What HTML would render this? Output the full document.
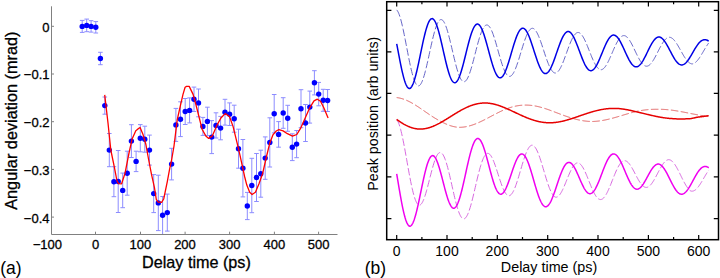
<!DOCTYPE html>
<html><head><meta charset="utf-8"><style>
html,body{margin:0;padding:0;background:#fff;}
body{width:720px;height:278px;overflow:hidden;}
svg{display:block;}
text{font-family:"Liberation Sans",sans-serif;fill:#000;stroke:#000;stroke-width:0.3px;}
.r text,text.r{stroke:none;}
</style></head><body>
<svg width="720" height="278" viewBox="0 0 720 278">
<!-- Panel (a) -->
<g stroke="#808080" stroke-width="1" fill="none">
<path d="M51.5 6.3V234.5H337.5"/>
<path d="M51.5 26.3h2.5M51.5 74h2.5M51.5 121.7h2.5M51.5 169.4h2.5M51.5 217.1h2.5"/>
<path d="M95.5 234.5v-2.8M140.5 234.5v-2.8M185.1 234.5v-2.8M229.6 234.5v-2.8M274.4 234.5v-2.8M318.6 234.5v-2.8"/>
</g>
<g stroke="#8c8cff" stroke-width="1" fill="none"><path d="M82.2 20.4V32.4M79.9 20.4h4.6M79.9 32.4h4.6M86.7 19.1V31.7M84.4 19.1h4.6M84.4 31.7h4.6M91.1 20.7V32.1M88.8 20.7h4.6M88.8 32.1h4.6M95.8 21.6V33.0M93.5 21.6h4.6M93.5 33.0h4.6M100.4 52.3V64.7M98.1 52.3h4.6M98.1 64.7h4.6M104.8 97.0V114.2M102.5 97.0h4.6M102.5 114.2h4.6M109.3 133.5V166.7M107.0 133.5h4.6M107.0 166.7h4.6M113.9 166.7V196.7M111.6 166.7h4.6M111.6 196.7h4.6M118.2 150.5V212.5M115.9 150.5h4.6M115.9 212.5h4.6M122.7 173.1V207.7M120.4 173.1h4.6M120.4 207.7h4.6M127.2 151.2V195.2M124.9 151.2h4.6M124.9 195.2h4.6M131.4 124.7V157.5M129.1 124.7h4.6M129.1 157.5h4.6M136.1 151.2V171.6M133.8 151.2h4.6M133.8 171.6h4.6M140.3 124.6V151.8M138.0 124.6h4.6M138.0 151.8h4.6M144.8 126.2V152.2M142.5 126.2h4.6M142.5 152.2h4.6M149.5 135.1V165.1M147.2 135.1h4.6M147.2 165.1h4.6M153.7 174.6V212.6M151.4 174.6h4.6M151.4 212.6h4.6M158.3 175.2V230.6M156.0 175.2h4.6M156.0 230.6h4.6M162.6 196.5V234.0M160.3 196.5h4.6M167.3 194.1V231.1M165.0 194.1h4.6M165.0 231.1h4.6M171.6 148.3V179.9M169.3 148.3h4.6M169.3 179.9h4.6M175.9 108.4V141.4M173.6 108.4h4.6M173.6 141.4h4.6M180.5 101.8V136.6M178.2 101.8h4.6M178.2 136.6h4.6M185.2 98.5V124.5M182.9 98.5h4.6M182.9 124.5h4.6M189.6 97.9V122.9M187.3 97.9h4.6M187.3 122.9h4.6M194.0 87.1V111.5M191.7 87.1h4.6M191.7 111.5h4.6M198.5 89.0V116.8M196.2 89.0h4.6M196.2 116.8h4.6M202.9 117.4V135.4M200.6 117.4h4.6M200.6 135.4h4.6M207.4 107.2V135.6M205.1 107.2h4.6M205.1 135.6h4.6M211.7 120.6V153.6M209.4 120.6h4.6M209.4 153.6h4.6M216.0 112.8V138.0M213.7 112.8h4.6M213.7 138.0h4.6M220.6 116.4V139.8M218.3 116.4h4.6M218.3 139.8h4.6M225.0 99.3V125.1M222.7 99.3h4.6M222.7 125.1h4.6M229.6 102.9V125.5M227.3 102.9h4.6M227.3 125.5h4.6M234.2 105.2V132.2M231.9 105.2h4.6M231.9 132.2h4.6M238.5 129.2V168.2M236.2 129.2h4.6M236.2 168.2h4.6M242.9 139.5V196.9M240.6 139.5h4.6M240.6 196.9h4.6M247.3 192.4V219.6M245.0 192.4h4.6M245.0 219.6h4.6M251.8 158.3V212.7M249.5 158.3h4.6M249.5 212.7h4.6M256.5 153.5V201.5M254.2 153.5h4.6M254.2 201.5h4.6M260.8 150.2V197.2M258.5 150.2h4.6M258.5 197.2h4.6M265.2 136.9V179.3M262.9 136.9h4.6M262.9 179.3h4.6M269.8 117.8V167.0M267.5 117.8h4.6M267.5 167.0h4.6M274.2 94.5V132.9M271.9 94.5h4.6M271.9 132.9h4.6M278.6 121.6V147.2M276.3 121.6h4.6M276.3 147.2h4.6M283.2 97.7V128.3M280.9 97.7h4.6M280.9 128.3h4.6M287.7 105.3V131.3M285.4 105.3h4.6M285.4 131.3h4.6M292.3 133.8V160.6M290.0 133.8h4.6M290.0 160.6h4.6M296.6 130.5V157.7M294.3 130.5h4.6M294.3 157.7h4.6M301.0 89.7V127.7M298.7 89.7h4.6M298.7 127.7h4.6M305.5 104.5V141.5M303.2 104.5h4.6M303.2 141.5h4.6M309.8 91.1V123.1M307.5 91.1h4.6M307.5 123.1h4.6M314.4 70.7V94.9M312.1 70.7h4.6M312.1 94.9h4.6M318.7 82.4V105.8M316.4 82.4h4.6M316.4 105.8h4.6M323.2 89.3V111.3M320.9 89.3h4.6M320.9 111.3h4.6M327.6 89.5V111.5M325.3 89.5h4.6M325.3 111.5h4.6"/></g>
<g fill="#0000ff"><circle cx="82.2" cy="26.4" r="2.7"/><circle cx="86.7" cy="25.4" r="2.7"/><circle cx="91.1" cy="26.4" r="2.7"/><circle cx="95.8" cy="27.3" r="2.7"/><circle cx="100.4" cy="58.5" r="2.7"/><circle cx="104.8" cy="105.6" r="2.7"/><circle cx="109.3" cy="150.1" r="2.7"/><circle cx="113.9" cy="181.7" r="2.7"/><circle cx="118.2" cy="181.5" r="2.7"/><circle cx="122.7" cy="190.4" r="2.7"/><circle cx="127.2" cy="173.2" r="2.7"/><circle cx="131.4" cy="141.1" r="2.7"/><circle cx="136.1" cy="161.4" r="2.7"/><circle cx="140.3" cy="138.2" r="2.7"/><circle cx="144.8" cy="139.2" r="2.7"/><circle cx="149.5" cy="150.1" r="2.7"/><circle cx="153.7" cy="193.6" r="2.7"/><circle cx="158.3" cy="202.9" r="2.7"/><circle cx="162.6" cy="215.3" r="2.7"/><circle cx="167.3" cy="212.6" r="2.7"/><circle cx="171.6" cy="164.1" r="2.7"/><circle cx="175.9" cy="124.9" r="2.7"/><circle cx="180.5" cy="119.2" r="2.7"/><circle cx="185.2" cy="111.5" r="2.7"/><circle cx="189.6" cy="110.4" r="2.7"/><circle cx="194.0" cy="99.3" r="2.7"/><circle cx="198.5" cy="102.9" r="2.7"/><circle cx="202.9" cy="126.4" r="2.7"/><circle cx="207.4" cy="121.4" r="2.7"/><circle cx="211.7" cy="137.1" r="2.7"/><circle cx="216.0" cy="125.4" r="2.7"/><circle cx="220.6" cy="128.1" r="2.7"/><circle cx="225.0" cy="112.2" r="2.7"/><circle cx="229.6" cy="114.2" r="2.7"/><circle cx="234.2" cy="118.7" r="2.7"/><circle cx="238.5" cy="148.7" r="2.7"/><circle cx="242.9" cy="168.2" r="2.7"/><circle cx="247.3" cy="206.0" r="2.7"/><circle cx="251.8" cy="185.5" r="2.7"/><circle cx="256.5" cy="177.5" r="2.7"/><circle cx="260.8" cy="173.7" r="2.7"/><circle cx="265.2" cy="158.1" r="2.7"/><circle cx="269.8" cy="142.4" r="2.7"/><circle cx="274.2" cy="113.7" r="2.7"/><circle cx="278.6" cy="134.4" r="2.7"/><circle cx="283.2" cy="113.0" r="2.7"/><circle cx="287.7" cy="118.3" r="2.7"/><circle cx="292.3" cy="147.2" r="2.7"/><circle cx="296.6" cy="144.1" r="2.7"/><circle cx="301.0" cy="108.7" r="2.7"/><circle cx="305.5" cy="123.0" r="2.7"/><circle cx="309.8" cy="107.1" r="2.7"/><circle cx="314.4" cy="82.8" r="2.7"/><circle cx="318.7" cy="94.1" r="2.7"/><circle cx="323.2" cy="100.3" r="2.7"/><circle cx="327.6" cy="100.5" r="2.7"/></g>
<polyline points="104.7,94.9 108,123 110.8,150 114.4,167.3 117,181 118.5,183.6 121.6,183.8 125,173.4 129,153 132.2,138.7 135.8,130.7 138,128.9 140.1,127.5 143,134.4 145.9,144.5 148.7,160 151.5,174.4 154.4,187.3 156.3,199.3 158,202 161.6,202.4 163.7,199 167.3,181.6 169.7,168.6 171.6,160 174,146 177.2,120 180.5,105.2 183,94.4 185.1,87.2 186.5,86.4 189.2,86.4 193.1,94.4 195.9,104.5 199.3,118 202.2,129.5 205.8,135.9 208.7,138.4 212.3,135.9 216.6,125.9 220.9,118 225.2,113.6 229.5,116.5 233.1,126.6 238.5,148.7 242.8,168.1 244.6,176.5 246.8,185.1 249.7,192.3 252.1,194.5 255.4,192.3 259,183.7 262.6,173.6 266.5,156.5 269.7,143.3 272.9,134.9 276.2,131 278.9,129.7 283.1,130.9 287.4,133.7 292.5,136.2 296.8,134.5 300.4,128.7 304,120.8 309.7,107.8 314,100.9 317.3,99.2 320.5,101.3 323.8,107.8 328.1,118" fill="none" stroke="#f00" stroke-width="1.3" stroke-linejoin="round"/>
<g font-size="13" text-anchor="end">
<text x="49.5" y="31.6">0</text>
<text x="49.5" y="79.3">&#8722;0.1</text>
<text x="49.5" y="127">&#8722;0.2</text>
<text x="49.5" y="174.8">&#8722;0.3</text>
<text x="49.5" y="222.6">&#8722;0.4</text>
</g>
<g font-size="13" text-anchor="middle">
<text x="51.2" y="248.7">100</text>
<text x="95.6" y="248.7">0</text>
<text x="140.4" y="248.7">100</text>
<text x="185" y="248.7">200</text>
<text x="229.6" y="248.7">300</text>
<text x="274.4" y="248.7">400</text>
<text x="318.6" y="248.7">500</text>
</g>
<text x="33" y="248.7" font-size="13">&#8722;</text>
<text x="142" y="267.6" font-size="16.2">Delay time (ps)</text>
<text transform="translate(16.5,209.8) rotate(-90)" font-size="16.3">Angular deviation (mrad)</text>
<text class="r" x="0.2" y="273.9" font-size="17.5">(a)</text>
<!-- Panel (b) -->
<polyline points="396.7,9.90 397.2,10.48 397.7,11.24 398.2,12.18 398.7,13.28 399.2,14.55 399.7,15.97 400.2,17.55 400.7,19.26 401.2,21.11 401.7,23.08 402.2,25.17 402.7,27.36 403.2,29.65 403.7,32.01 404.2,34.45 404.7,36.95 405.2,39.50 405.7,42.08 406.2,44.69 406.7,47.30 407.2,49.92 407.7,52.52 408.2,55.10 408.7,57.64 409.2,60.13 409.7,62.56 410.2,64.92 410.7,67.20 411.2,69.39 411.7,71.47 412.2,73.44 412.7,75.29 413.2,77.01 413.7,78.60 414.2,80.05 414.7,81.34 415.2,82.48 415.7,83.46 416.2,84.28 416.7,84.94 417.2,85.43 417.7,85.74 418.2,85.89 418.7,85.88 419.2,85.71 419.7,85.37 420.2,84.86 420.7,84.20 421.2,83.37 421.7,82.40 422.2,81.27 422.7,80.01 423.2,78.61 423.7,77.08 424.2,75.44 424.7,73.68 425.2,71.82 425.7,69.87 426.2,67.84 426.7,65.74 427.2,63.57 427.7,61.35 428.2,59.10 428.7,56.81 429.2,54.51 429.7,52.20 430.2,49.89 430.7,47.60 431.2,45.34 431.7,43.11 432.2,40.93 432.7,38.82 433.2,36.77 433.7,34.79 434.2,32.91 434.7,31.12 435.2,29.44 435.7,27.87 436.2,26.41 436.7,25.09 437.2,23.90 437.7,22.84 438.2,21.93 438.7,21.16 439.2,20.55 439.7,20.08 440.2,19.77 440.7,19.62 441.2,19.59 441.7,19.68 442.2,19.92 442.7,20.31 443.2,20.86 443.7,21.55 444.2,22.38 444.7,23.35 445.2,24.46 445.7,25.69 446.2,27.04 446.7,28.51 447.2,30.08 447.7,31.75 448.2,33.51 448.7,35.35 449.2,37.27 449.7,39.24 450.2,41.27 450.7,43.35 451.2,45.45 451.7,47.58 452.2,49.73 452.7,51.87 453.2,54.01 453.7,56.13 454.2,58.22 454.7,60.27 455.2,62.28 455.7,64.23 456.2,66.12 456.7,67.93 457.2,69.66 457.7,71.29 458.2,72.83 458.7,74.27 459.2,75.59 459.7,76.79 460.2,77.87 460.7,78.83 461.2,79.65 461.7,80.34 462.2,80.89 462.7,81.30 463.2,81.57 463.7,81.70 464.2,81.72 464.7,81.59 465.2,81.33 465.7,80.92 466.2,80.38 466.7,79.71 467.2,78.91 467.7,77.98 468.2,76.93 468.7,75.77 469.2,74.50 469.7,73.13 470.2,71.67 470.7,70.11 471.2,68.48 471.7,66.78 472.2,65.01 472.7,63.18 473.2,61.32 473.7,59.41 474.2,57.48 474.7,55.53 475.2,53.57 475.7,51.61 476.2,49.67 476.7,47.74 477.2,45.84 477.7,43.97 478.2,42.16 478.7,40.40 479.2,38.70 479.7,37.07 480.2,35.52 480.7,34.05 481.2,32.68 481.7,31.40 482.2,30.23 482.7,29.17 483.2,28.22 483.7,27.39 484.2,26.68 484.7,26.09 485.2,25.63 485.7,25.30 486.2,25.10 486.7,24.99 487.2,25.01 487.7,25.16 488.2,25.43 488.7,25.84 489.2,26.36 489.7,27.01 490.2,27.77 490.7,28.65 491.2,29.63 491.7,30.72 492.2,31.90 492.7,33.17 493.2,34.53 493.7,35.97 494.2,37.48 494.7,39.05 495.2,40.67 495.7,42.35 496.2,44.06 496.7,45.80 497.2,47.56 497.7,49.34 498.2,51.12 498.7,52.90 499.2,54.67 499.7,56.42 500.2,58.13 500.7,59.82 501.2,61.45 501.7,63.04 502.2,64.56 502.7,66.02 503.2,67.40 503.7,68.71 504.2,69.92 504.7,71.05 505.2,72.08 505.7,73.01 506.2,73.83 506.7,74.55 507.2,75.15 507.7,75.64 508.2,76.01 508.7,76.27 509.2,76.40 509.7,76.42 510.2,76.32 510.7,76.11 511.2,75.79 511.7,75.36 512.2,74.82 512.7,74.17 513.2,73.41 513.7,72.56 514.2,71.60 514.7,70.55 515.2,69.42 515.7,68.20 516.2,66.91 516.7,65.55 517.2,64.13 517.7,62.66 518.2,61.13 518.7,59.57 519.2,57.97 519.7,56.34 520.2,54.70 520.7,53.05 521.2,51.40 521.7,49.75 522.2,48.12 522.7,46.50 523.2,44.92 523.7,43.37 524.2,41.86 524.7,40.41 525.2,39.01 525.7,37.68 526.2,36.41 526.7,35.22 527.2,34.11 527.7,33.09 528.2,32.15 528.7,31.31 529.2,30.57 529.7,29.92 530.2,29.38 530.7,28.95 531.2,28.62 531.7,28.40 532.2,28.29 532.7,28.31 533.2,28.43 533.7,28.67 534.2,29.01 534.7,29.45 535.2,30.00 535.7,30.64 536.2,31.38 536.7,32.21 537.2,33.13 537.7,34.13 538.2,35.21 538.7,36.36 539.2,37.58 539.7,38.86 540.2,40.19 540.7,41.57 541.2,43.00 541.7,44.45 542.2,45.94 542.7,47.45 543.2,48.97 543.7,50.50 544.2,52.02 544.7,53.54 545.2,55.05 545.7,56.53 546.2,57.99 546.7,59.41 547.2,60.78 547.7,62.11 548.2,63.39 548.7,64.61 549.2,65.76 549.7,66.84 550.2,67.85 550.7,68.77 551.2,69.62 551.7,70.37 552.2,71.04 552.7,71.61 553.2,72.09 553.7,72.47 554.2,72.76 554.7,72.94 555.2,73.03 555.7,73.01 556.2,72.88 556.7,72.64 557.2,72.31 557.7,71.88 558.2,71.35 558.7,70.74 559.2,70.05 559.7,69.27 560.2,68.41 560.7,67.48 561.2,66.47 561.7,65.41 562.2,64.28 562.7,63.10 563.2,61.88 563.7,60.61 564.2,59.30 564.7,57.96 565.2,56.60 565.7,55.23 566.2,53.84 566.7,52.45 567.2,51.06 567.7,49.69 568.2,48.32 568.7,46.98 569.2,45.67 569.7,44.39 570.2,43.15 570.7,41.96 571.2,40.82 571.7,39.73 572.2,38.71 572.7,37.75 573.2,36.86 573.7,36.04 574.2,35.30 574.7,34.65 575.2,34.07 575.7,33.58 576.2,33.18 576.7,32.87 577.2,32.65 577.7,32.52 578.2,32.49 578.7,32.56 579.2,32.73 579.7,32.98 580.2,33.31 580.7,33.74 581.2,34.24 581.7,34.83 582.2,35.50 582.7,36.24 583.2,37.05 583.7,37.92 584.2,38.86 584.7,39.86 585.2,40.91 585.7,42.00 586.2,43.14 586.7,44.32 587.2,45.53 587.7,46.76 588.2,48.01 588.7,49.27 589.2,50.54 589.7,51.82 590.2,53.09 590.7,54.35 591.2,55.59 591.7,56.81 592.2,58.00 592.7,59.16 593.2,60.29 593.7,61.36 594.2,62.39 594.7,63.37 595.2,64.29 595.7,65.15 596.2,65.94 596.7,66.67 597.2,67.32 597.7,67.90 598.2,68.40 598.7,68.83 599.2,69.17 599.7,69.43 600.2,69.61 600.7,69.71 601.2,69.72 601.7,69.63 602.2,69.46 602.7,69.20 603.2,68.86 603.7,68.44 604.2,67.95 604.7,67.39 605.2,66.76 605.7,66.06 606.2,65.29 606.7,64.47 607.2,63.59 607.7,62.66 608.2,61.68 608.7,60.67 609.2,59.61 609.7,58.52 610.2,57.41 610.7,56.28 611.2,55.13 611.7,53.96 612.2,52.80 612.7,51.63 613.2,50.47 613.7,49.32 614.2,48.19 614.7,47.08 615.2,46.00 615.7,44.94 616.2,43.93 616.7,42.95 617.2,42.03 617.7,41.15 618.2,40.32 618.7,39.55 619.2,38.85 619.7,38.20 620.2,37.63 620.7,37.12 621.2,36.68 621.7,36.31 622.2,36.02 622.7,35.81 623.2,35.67 623.7,35.60 624.2,35.61 624.7,35.70 625.2,35.87 625.7,36.12 626.2,36.44 626.7,36.83 627.2,37.29 627.7,37.82 628.2,38.40 628.7,39.05 629.2,39.75 629.7,40.51 630.2,41.32 630.7,42.17 631.2,43.06 631.7,43.99 632.2,44.96 632.7,45.95 633.2,46.96 633.7,47.99 634.2,49.03 634.7,50.08 635.2,51.14 635.7,52.19 636.2,53.24 636.7,54.27 637.2,55.29 637.7,56.28 638.2,57.25 638.7,58.19 639.2,59.09 639.7,59.96 640.2,60.78 640.7,61.55 641.2,62.28 641.7,62.95 642.2,63.56 642.7,64.12 643.2,64.61 643.7,65.05 644.2,65.41 644.7,65.71 645.2,65.94 645.7,66.10 646.2,66.20 646.7,66.22 647.2,66.16 647.7,66.03 648.2,65.82 648.7,65.55 649.2,65.21 649.7,64.81 650.2,64.35 650.7,63.82 651.2,63.25 651.7,62.61 652.2,61.93 652.7,61.20 653.2,60.42 653.7,59.61 654.2,58.75 654.7,57.87 655.2,56.96 655.7,56.02 656.2,55.07 656.7,54.10 657.2,53.12 657.7,52.13 658.2,51.14 658.7,50.16 659.2,49.18 659.7,48.22 660.2,47.27 660.7,46.35 661.2,45.44 661.7,44.57 662.2,43.73 662.7,42.93 663.2,42.17 663.7,41.45 664.2,40.78 664.7,40.16 665.2,39.60 665.7,39.08 666.2,38.63 666.7,38.23 667.2,37.89 667.7,37.61 668.2,37.40 668.7,37.29 669.2,37.25 669.7,37.27 670.2,37.36 670.7,37.51 671.2,37.72 671.7,37.99 672.2,38.32 672.7,38.70 673.2,39.15 673.7,39.64 674.2,40.19 674.7,40.79 675.2,41.43 675.7,42.11 676.2,42.83 676.7,43.59 677.2,44.38 677.7,45.20 678.2,46.04 678.7,46.91 679.2,47.79 679.7,48.68 680.2,49.58 680.7,50.48 681.2,51.39 681.7,52.28 682.2,53.17 682.7,54.05 683.2,54.91 683.7,55.75 684.2,56.57 684.7,57.36 685.2,58.12 685.7,58.84 686.2,59.52 686.7,60.16 687.2,60.76 687.7,61.32 688.2,61.82 688.7,62.27 689.2,62.68 689.7,63.02 690.2,63.31 690.7,63.55 691.2,63.73 691.7,63.85 692.2,63.89 692.7,63.83 693.2,63.70 693.7,63.52 694.2,63.28 694.7,62.98 695.2,62.64 695.7,62.24 696.2,61.79 696.7,61.29 697.2,60.74 697.7,60.16 698.2,59.53 698.7,58.86 699.2,58.16 699.7,57.43 700.2,56.67 700.7,55.89 701.2,55.08 701.7,54.26 702.2,53.42 702.7,52.57 703.2,51.72 703.7,50.86 704.2,50.01 704.7,49.16 705.2,48.32 705.7,47.50 706.2,46.69 706.7,45.89 707.2,45.13 707.7,44.39 708.2,43.68 708.7,43.00" fill="none" stroke="#6464c8" stroke-width="1" stroke-dasharray="7.5 2.5"/>
<polyline points="396.7,97.59 397.2,97.65 397.7,97.71 398.2,97.79 398.7,97.88 399.2,97.97 399.7,98.07 400.2,98.19 400.7,98.31 401.2,98.44 401.7,98.58 402.2,98.72 402.7,98.88 403.2,99.04 403.7,99.21 404.2,99.39 404.7,99.57 405.2,99.77 405.7,99.97 406.2,100.18 406.7,100.39 407.2,100.61 407.7,100.84 408.2,101.08 408.7,101.32 409.2,101.57 409.7,101.82 410.2,102.08 410.7,102.35 411.2,102.62 411.7,102.89 412.2,103.18 412.7,103.46 413.2,103.75 413.7,104.05 414.2,104.35 414.7,104.66 415.2,104.96 415.7,105.28 416.2,105.59 416.7,105.91 417.2,106.23 417.7,106.56 418.2,106.89 418.7,107.22 419.2,107.55 419.7,107.89 420.2,108.23 420.7,108.57 421.2,108.91 421.7,109.25 422.2,109.59 422.7,109.94 423.2,110.28 423.7,110.63 424.2,110.98 424.7,111.32 425.2,111.67 425.7,112.02 426.2,112.36 426.7,112.71 427.2,113.05 427.7,113.39 428.2,113.74 428.7,114.08 429.2,114.42 429.7,114.75 430.2,115.09 430.7,115.42 431.2,115.75 431.7,116.08 432.2,116.41 432.7,116.73 433.2,117.05 433.7,117.36 434.2,117.68 434.7,117.99 435.2,118.29 435.7,118.59 436.2,118.89 436.7,119.18 437.2,119.47 437.7,119.76 438.2,120.04 438.7,120.31 439.2,120.58 439.7,120.85 440.2,121.11 440.7,121.36 441.2,121.61 441.7,121.85 442.2,122.12 442.7,122.38 443.2,122.64 443.7,122.90 444.2,123.15 444.7,123.39 445.2,123.62 445.7,123.85 446.2,124.07 446.7,124.29 447.2,124.50 447.7,124.70 448.2,124.90 448.7,125.09 449.2,125.27 449.7,125.44 450.2,125.61 450.7,125.77 451.2,125.93 451.7,126.07 452.2,126.21 452.7,126.35 453.2,126.47 453.7,126.59 454.2,126.70 454.7,126.80 455.2,126.90 455.7,126.99 456.2,127.07 456.7,127.14 457.2,127.21 457.7,127.27 458.2,127.31 458.7,127.32 459.2,127.32 459.7,127.32 460.2,127.31 460.7,127.30 461.2,127.27 461.7,127.24 462.2,127.20 462.7,127.16 463.2,127.11 463.7,127.05 464.2,126.98 464.7,126.91 465.2,126.83 465.7,126.75 466.2,126.66 466.7,126.56 467.2,126.45 467.7,126.34 468.2,126.23 468.7,126.10 469.2,125.97 469.7,125.84 470.2,125.70 470.7,125.55 471.2,125.40 471.7,125.24 472.2,125.08 472.7,124.91 473.2,124.74 473.7,124.56 474.2,124.38 474.7,124.19 475.2,124.00 475.7,123.80 476.2,123.60 476.7,123.40 477.2,123.19 477.7,122.97 478.2,122.76 478.7,122.53 479.2,122.31 479.7,122.08 480.2,121.85 480.7,121.62 481.2,121.38 481.7,121.14 482.2,120.90 482.7,120.65 483.2,120.40 483.7,120.15 484.2,119.90 484.7,119.65 485.2,119.39 485.7,119.13 486.2,118.88 486.7,118.61 487.2,118.35 487.7,118.09 488.2,117.83 488.7,117.56 489.2,117.30 489.7,117.03 490.2,116.77 490.7,116.50 491.2,116.24 491.7,115.97 492.2,115.71 492.7,115.44 493.2,115.18 493.7,114.92 494.2,114.65 494.7,114.39 495.2,114.13 495.7,113.87 496.2,113.62 496.7,113.36 497.2,113.11 497.7,112.85 498.2,112.60 498.7,112.36 499.2,112.11 499.7,111.87 500.2,111.63 500.7,111.39 501.2,111.15 501.7,110.92 502.2,110.69 502.7,110.46 503.2,110.24 503.7,110.02 504.2,109.81 504.7,109.59 505.2,109.38 505.7,109.18 506.2,108.98 506.7,108.78 507.2,108.59 507.7,108.41 508.2,108.23 508.7,108.05 509.2,107.89 509.7,107.72 510.2,107.56 510.7,107.40 511.2,107.25 511.7,107.11 512.2,106.96 512.7,106.83 513.2,106.70 513.7,106.57 514.2,106.45 514.7,106.33 515.2,106.22 515.7,106.11 516.2,106.01 516.7,105.91 517.2,105.82 517.7,105.74 518.2,105.66 518.7,105.58 519.2,105.51 519.7,105.45 520.2,105.39 520.7,105.34 521.2,105.29 521.7,105.25 522.2,105.21 522.7,105.18 523.2,105.15 523.7,105.13 524.2,105.11 524.7,105.10 525.2,105.10 525.7,105.09 526.2,105.09 526.7,105.10 527.2,105.11 527.7,105.13 528.2,105.15 528.7,105.18 529.2,105.21 529.7,105.25 530.2,105.29 530.7,105.34 531.2,105.39 531.7,105.45 532.2,105.51 532.7,105.58 533.2,105.65 533.7,105.73 534.2,105.81 534.7,105.90 535.2,105.99 535.7,106.08 536.2,106.18 536.7,106.28 537.2,106.39 537.7,106.50 538.2,106.61 538.7,106.73 539.2,106.86 539.7,106.98 540.2,107.11 540.7,107.25 541.2,107.38 541.7,107.52 542.2,107.67 542.7,107.81 543.2,107.96 543.7,108.12 544.2,108.27 544.7,108.43 545.2,108.59 545.7,108.75 546.2,108.92 546.7,109.09 547.2,109.26 547.7,109.43 548.2,109.60 548.7,109.78 549.2,109.96 549.7,110.14 550.2,110.32 550.7,110.50 551.2,110.69 551.7,110.87 552.2,111.06 552.7,111.25 553.2,111.43 553.7,111.62 554.2,111.81 554.7,112.00 555.2,112.19 555.7,112.39 556.2,112.58 556.7,112.77 557.2,112.96 557.7,113.15 558.2,113.34 558.7,113.53 559.2,113.72 559.7,113.91 560.2,114.10 560.7,114.29 561.2,114.48 561.7,114.66 562.2,114.85 562.7,115.03 563.2,115.22 563.7,115.40 564.2,115.58 564.7,115.76 565.2,115.93 565.7,116.11 566.2,116.28 566.7,116.45 567.2,116.62 567.7,116.79 568.2,116.96 568.7,117.12 569.2,117.28 569.7,117.44 570.2,117.59 570.7,117.74 571.2,117.89 571.7,118.04 572.2,118.19 572.7,118.33 573.2,118.48 573.7,118.63 574.2,118.77 574.7,118.91 575.2,119.05 575.7,119.18 576.2,119.31 576.7,119.44 577.2,119.56 577.7,119.68 578.2,119.80 578.7,119.91 579.2,120.02 579.7,120.12 580.2,120.23 580.7,120.32 581.2,120.42 581.7,120.51 582.2,120.59 582.7,120.68 583.2,120.76 583.7,120.83 584.2,120.90 584.7,120.97 585.2,121.03 585.7,121.09 586.2,121.15 586.7,121.20 587.2,121.25 587.7,121.29 588.2,121.33 588.7,121.36 589.2,121.39 589.7,121.42 590.2,121.44 590.7,121.46 591.2,121.48 591.7,121.49 592.2,121.50 592.7,121.49 593.2,121.47 593.7,121.45 594.2,121.42 594.7,121.40 595.2,121.36 595.7,121.32 596.2,121.28 596.7,121.24 597.2,121.19 597.7,121.14 598.2,121.08 598.7,121.02 599.2,120.96 599.7,120.90 600.2,120.83 600.7,120.75 601.2,120.68 601.7,120.60 602.2,120.52 602.7,120.43 603.2,120.34 603.7,120.25 604.2,120.16 604.7,120.06 605.2,119.96 605.7,119.86 606.2,119.75 606.7,119.64 607.2,119.53 607.7,119.42 608.2,119.30 608.7,119.19 609.2,119.07 609.7,118.94 610.2,118.82 610.7,118.69 611.2,118.56 611.7,118.43 612.2,118.30 612.7,118.17 613.2,118.03 613.7,117.90 614.2,117.76 614.7,117.62 615.2,117.48 615.7,117.33 616.2,117.19 616.7,117.04 617.2,116.90 617.7,116.75 618.2,116.60 618.7,116.46 619.2,116.31 619.7,116.16 620.2,116.01 620.7,115.86 621.2,115.71 621.7,115.56 622.2,115.41 622.7,115.25 623.2,115.10 623.7,114.95 624.2,114.80 624.7,114.65 625.2,114.50 625.7,114.35 626.2,114.20 626.7,114.05 627.2,113.90 627.7,113.76 628.2,113.61 628.7,113.46 629.2,113.32 629.7,113.17 630.2,113.03 630.7,112.89 631.2,112.75 631.7,112.61 632.2,112.47 632.7,112.33 633.2,112.20 633.7,112.07 634.2,111.93 634.7,111.80 635.2,111.68 635.7,111.56 636.2,111.45 636.7,111.35 637.2,111.25 637.7,111.15 638.2,111.05 638.7,110.96 639.2,110.87 639.7,110.78 640.2,110.69 640.7,110.60 641.2,110.52 641.7,110.44 642.2,110.36 642.7,110.29 643.2,110.21 643.7,110.14 644.2,110.08 644.7,110.01 645.2,109.95 645.7,109.89 646.2,109.83 646.7,109.78 647.2,109.72 647.7,109.68 648.2,109.63 648.7,109.59 649.2,109.55 649.7,109.51 650.2,109.48 650.7,109.44 651.2,109.42 651.7,109.39 652.2,109.37 652.7,109.35 653.2,109.33 653.7,109.32 654.2,109.31 654.7,109.30 655.2,109.29 655.7,109.29 656.2,109.29 656.7,109.30 657.2,109.30 657.7,109.29 658.2,109.28 658.7,109.28 659.2,109.28 659.7,109.28 660.2,109.29 660.7,109.30 661.2,109.31 661.7,109.33 662.2,109.34 662.7,109.36 663.2,109.39 663.7,109.41 664.2,109.44 664.7,109.47 665.2,109.50 665.7,109.54 666.2,109.58 666.7,109.62 667.2,109.66 667.7,109.71 668.2,109.75 668.7,109.80 669.2,109.86 669.7,109.91 670.2,109.97 670.7,110.03 671.2,110.09 671.7,110.15 672.2,110.22 672.7,110.28 673.2,110.35 673.7,110.42 674.2,110.50 674.7,110.57 675.2,110.65 675.7,110.72 676.2,110.80 676.7,110.88 677.2,110.97 677.7,111.05 678.2,111.13 678.7,111.22 679.2,111.31 679.7,111.40 680.2,111.49 680.7,111.58 681.2,111.67 681.7,111.76 682.2,111.85 682.7,111.95 683.2,112.04 683.7,112.14 684.2,112.23 684.7,112.33 685.2,112.43 685.7,112.53 686.2,112.62 686.7,112.72 687.2,112.82 687.7,112.92 688.2,113.02 688.7,113.12 689.2,113.22 689.7,113.32 690.2,113.42 690.7,113.51 691.2,113.61 691.7,113.71 692.2,113.81 692.7,113.91 693.2,114.00 693.7,114.10 694.2,114.20 694.7,114.29 695.2,114.39 695.7,114.48 696.2,114.57 696.7,114.67 697.2,114.76 697.7,114.85 698.2,114.94 698.7,115.02 699.2,115.11 699.7,115.20 700.2,115.28 700.7,115.37 701.2,115.45 701.7,115.53 702.2,115.61 702.7,115.69 703.2,115.76 703.7,115.84 704.2,115.91 704.7,115.98 705.2,116.06 705.7,116.12 706.2,116.19 706.7,116.26 707.2,116.32 707.7,116.38 708.2,116.44 708.7,116.50" fill="none" stroke="#e05a5a" stroke-width="1" stroke-dasharray="7.5 2.5"/>
<polyline points="396.7,119.59 397.2,120.22 397.7,121.05 398.2,122.05 398.7,123.24 399.2,124.60 399.7,126.12 400.2,127.80 400.7,129.63 401.2,131.60 401.7,133.71 402.2,135.94 402.7,138.28 403.2,140.72 403.7,143.25 404.2,145.86 404.7,148.54 405.2,151.28 405.7,154.06 406.2,156.87 406.7,159.69 407.2,162.53 407.7,165.35 408.2,168.16 408.7,170.94 409.2,173.67 409.7,176.35 410.2,178.97 410.7,181.50 411.2,183.96 411.7,186.31 412.2,188.56 412.7,190.69 413.2,192.70 413.7,194.58 414.2,196.32 414.7,197.91 415.2,199.36 415.7,200.65 416.2,201.78 416.7,202.75 417.2,203.55 417.7,204.19 418.2,204.66 418.7,204.96 419.2,205.10 419.7,205.09 420.2,204.92 420.7,204.59 421.2,204.10 421.7,203.46 422.2,202.68 422.7,201.75 423.2,200.70 423.7,199.51 424.2,198.21 424.7,196.79 425.2,195.28 425.7,193.67 426.2,191.98 426.7,190.21 427.2,188.39 427.7,186.51 428.2,184.59 428.7,182.64 429.2,180.67 429.7,178.69 430.2,176.72 430.7,174.75 431.2,172.82 431.7,170.91 432.2,169.06 432.7,167.26 433.2,165.52 433.7,163.86 434.2,162.28 434.7,160.80 435.2,159.42 435.7,158.14 436.2,156.98 436.7,155.95 437.2,155.04 437.7,154.26 438.2,153.63 438.7,153.13 439.2,152.78 439.7,152.58 440.2,152.52 440.7,152.62 441.2,152.85 441.7,153.17 442.2,153.64 442.7,154.25 443.2,155.01 443.7,155.91 444.2,156.95 444.7,158.12 445.2,159.41 445.7,160.83 446.2,162.36 446.7,164.00 447.2,165.73 447.7,167.56 448.2,169.47 448.7,171.46 449.2,173.51 449.7,175.62 450.2,177.78 450.7,179.97 451.2,182.18 451.7,184.41 452.2,186.65 452.7,188.89 453.2,191.10 453.7,193.30 454.2,195.46 454.7,197.57 455.2,199.63 455.7,201.62 456.2,203.54 456.7,205.39 457.2,207.14 457.7,208.79 458.2,210.33 458.7,211.77 459.2,213.08 459.7,214.28 460.2,215.34 460.7,216.26 461.2,217.05 461.7,217.70 462.2,218.20 462.7,218.55 463.2,218.76 463.7,218.82 464.2,218.75 464.7,218.55 465.2,218.21 465.7,217.72 466.2,217.09 466.7,216.31 467.2,215.41 467.7,214.37 468.2,213.20 468.7,211.92 469.2,210.52 469.7,209.01 470.2,207.40 470.7,205.70 471.2,203.92 471.7,202.05 472.2,200.12 472.7,198.13 473.2,196.09 473.7,194.01 474.2,191.89 474.7,189.75 475.2,187.60 475.7,185.44 476.2,183.29 476.7,181.16 477.2,179.05 477.7,176.97 478.2,174.94 478.7,172.95 479.2,171.03 479.7,169.17 480.2,167.39 480.7,165.68 481.2,164.07 481.7,162.56 482.2,161.14 482.7,159.83 483.2,158.63 483.7,157.55 484.2,156.59 484.7,155.75 485.2,155.03 485.7,154.44 486.2,153.98 486.7,153.65 487.2,153.44 487.7,153.37 488.2,153.42 488.7,153.59 489.2,153.88 489.7,154.29 490.2,154.82 490.7,155.46 491.2,156.21 491.7,157.06 492.2,158.01 492.7,159.05 493.2,160.18 493.7,161.38 494.2,162.66 494.7,164.00 495.2,165.39 495.7,166.84 496.2,168.32 496.7,169.84 497.2,171.38 497.7,172.93 498.2,174.50 498.7,176.06 499.2,177.61 499.7,179.15 500.2,180.65 500.7,182.13 501.2,183.56 501.7,184.94 502.2,186.27 502.7,187.53 503.2,188.72 503.7,189.84 504.2,190.87 504.7,191.81 505.2,192.66 505.7,193.42 506.2,194.07 506.7,194.62 507.2,195.06 507.7,195.39 508.2,195.61 508.7,195.71 509.2,195.70 509.7,195.57 510.2,195.33 510.7,194.97 511.2,194.50 511.7,193.92 512.2,193.23 512.7,192.44 513.2,191.55 513.7,190.56 514.2,189.49 514.7,188.32 515.2,187.07 515.7,185.74 516.2,184.35 516.7,182.89 517.2,181.38 517.7,179.81 518.2,178.20 518.7,176.56 519.2,174.89 519.7,173.20 520.2,171.49 520.7,169.78 521.2,168.08 521.7,166.39 522.2,164.71 522.7,163.06 523.2,161.45 523.7,159.88 524.2,158.35 524.7,156.89 525.2,155.48 525.7,154.14 526.2,152.88 526.7,151.70 527.2,150.60 527.7,149.59 528.2,148.68 528.7,147.87 529.2,147.16 529.7,146.55 530.2,146.06 530.7,145.67 531.2,145.40 531.7,145.24 532.2,145.19 532.7,145.27 533.2,145.48 533.7,145.80 534.2,146.23 534.7,146.77 535.2,147.41 535.7,148.16 536.2,149.01 536.7,149.95 537.2,150.99 537.7,152.11 538.2,153.31 538.7,154.59 539.2,155.94 539.7,157.36 540.2,158.83 540.7,160.36 541.2,161.93 541.7,163.54 542.2,165.18 542.7,166.84 543.2,168.52 543.7,170.21 544.2,171.90 544.7,173.59 545.2,175.27 545.7,176.92 546.2,178.56 546.7,180.15 547.2,181.71 547.7,183.22 548.2,184.68 548.7,186.09 549.2,187.43 549.7,188.70 550.2,189.89 550.7,191.01 551.2,192.05 551.7,193.00 552.2,193.86 552.7,194.64 553.2,195.31 553.7,195.89 554.2,196.38 554.7,196.76 555.2,197.04 555.7,197.16 556.2,197.19 556.7,197.12 557.2,196.96 557.7,196.70 558.2,196.34 558.7,195.90 559.2,195.37 559.7,194.76 560.2,194.07 560.7,193.30 561.2,192.47 561.7,191.57 562.2,190.60 562.7,189.59 563.2,188.52 563.7,187.41 564.2,186.26 564.7,185.08 565.2,183.88 565.7,182.65 566.2,181.42 566.7,180.18 567.2,178.94 567.7,177.70 568.2,176.48 568.7,175.28 569.2,174.11 569.7,172.97 570.2,171.86 570.7,170.80 571.2,169.78 571.7,168.82 572.2,167.92 572.7,167.08 573.2,166.31 573.7,165.61 574.2,164.98 574.7,164.43 575.2,163.96 575.7,163.57 576.2,163.27 576.7,163.05 577.2,162.92 577.7,162.88 578.2,162.94 578.7,163.08 579.2,163.31 579.7,163.62 580.2,164.02 580.7,164.50 581.2,165.06 581.7,165.69 582.2,166.40 582.7,167.18 583.2,168.03 583.7,168.94 584.2,169.91 584.7,170.93 585.2,172.00 585.7,173.11 586.2,174.26 586.7,175.45 587.2,176.66 587.7,177.89 588.2,179.14 588.7,180.39 589.2,181.66 589.7,182.91 590.2,184.16 590.7,185.40 591.2,186.62 591.7,187.81 592.2,188.96 592.7,190.09 593.2,191.17 593.7,192.20 594.2,193.18 594.7,194.10 595.2,194.96 595.7,195.76 596.2,196.49 596.7,197.14 597.2,197.72 597.7,198.23 598.2,198.65 598.7,198.99 599.2,199.24 599.7,199.42 600.2,199.50 600.7,199.52 601.2,199.46 601.7,199.31 602.2,199.08 602.7,198.76 603.2,198.36 603.7,197.88 604.2,197.32 604.7,196.69 605.2,195.98 605.7,195.21 606.2,194.36 606.7,193.46 607.2,192.50 607.7,191.48 608.2,190.41 608.7,189.30 609.2,188.16 609.7,186.97 610.2,185.76 610.7,184.53 611.2,183.27 611.7,182.01 612.2,180.74 612.7,179.46 613.2,178.19 613.7,176.93 614.2,175.69 614.7,174.46 615.2,173.27 615.7,172.10 616.2,170.96 616.7,169.87 617.2,168.82 617.7,167.83 618.2,166.88 618.7,165.99 619.2,165.16 619.7,164.39 620.2,163.69 620.7,163.06 621.2,162.50 621.7,162.01 622.2,161.59 622.7,161.25 623.2,160.99 623.7,160.80 624.2,160.69 624.7,160.67 625.2,160.73 625.7,160.86 626.2,161.07 626.7,161.35 627.2,161.69 627.7,162.10 628.2,162.58 628.7,163.11 629.2,163.71 629.7,164.36 630.2,165.06 630.7,165.80 631.2,166.59 631.7,167.41 632.2,168.27 632.7,169.16 633.2,170.08 633.7,171.01 634.2,171.95 634.7,172.91 635.2,173.87 635.7,174.83 636.2,175.79 636.7,176.73 637.2,177.66 637.7,178.58 638.2,179.46 638.7,180.32 639.2,181.15 639.7,181.94 640.2,182.69 640.7,183.39 641.2,184.05 641.7,184.66 642.2,185.21 642.7,185.70 643.2,186.14 643.7,186.51 644.2,186.83 644.7,187.08 645.2,187.26 645.7,187.38 646.2,187.43 646.7,187.41 647.2,187.31 647.7,187.14 648.2,186.91 648.7,186.61 649.2,186.25 649.7,185.83 650.2,185.35 650.7,184.81 651.2,184.22 651.7,183.58 652.2,182.89 652.7,182.16 653.2,181.38 653.7,180.57 654.2,179.72 654.7,178.85 655.2,177.95 655.7,177.03 656.2,176.09 656.7,175.14 657.2,174.19 657.7,173.23 658.2,172.27 658.7,171.32 659.2,170.38 659.7,169.45 660.2,168.55 660.7,167.66 661.2,166.81 661.7,165.99 662.2,165.20 662.7,164.46 663.2,163.75 663.7,163.10 664.2,162.49 664.7,161.93 665.2,161.43 665.7,160.99 666.2,160.61 666.7,160.29 667.2,160.03 667.7,159.83 668.2,159.70 668.7,159.67 669.2,159.71 669.7,159.82 670.2,159.99 670.7,160.23 671.2,160.53 671.7,160.89 672.2,161.31 672.7,161.80 673.2,162.34 673.7,162.94 674.2,163.59 674.7,164.29 675.2,165.03 675.7,165.82 676.2,166.65 676.7,167.52 677.2,168.42 677.7,169.36 678.2,170.31 678.7,171.29 679.2,172.29 679.7,173.30 680.2,174.32 680.7,175.34 681.2,176.36 681.7,177.39 682.2,178.40 682.7,179.40 683.2,180.39 683.7,181.35 684.2,182.29 684.7,183.21 685.2,184.09 685.7,184.94 686.2,185.75 686.7,186.52 687.2,187.25 687.7,187.93 688.2,188.56 688.7,189.15 689.2,189.68 689.7,190.15 690.2,190.57 690.7,190.93 691.2,191.09 691.7,191.16 692.2,191.17 692.7,191.12 693.2,191.01 693.7,190.84 694.2,190.62 694.7,190.34 695.2,190.00 695.7,189.62 696.2,189.18 696.7,188.69 697.2,188.16 697.7,187.58 698.2,186.96 698.7,186.30 699.2,185.61 699.7,184.88 700.2,184.12 700.7,183.34 701.2,182.54 701.7,181.72 702.2,180.88 702.7,180.03 703.2,179.17 703.7,178.31 704.2,177.45 704.7,176.59 705.2,175.74 705.7,174.90 706.2,174.08 706.7,173.27 707.2,172.49 707.7,171.73 708.2,171.00 708.7,170.30" fill="none" stroke="#d868e0" stroke-width="1" stroke-dasharray="7.5 2.5"/>
<polyline points="396.7,43.80 397.2,46.43 397.7,49.08 398.2,51.73 398.7,54.37 399.2,56.98 399.7,59.56 400.2,62.10 400.7,64.58 401.2,66.98 401.7,69.31 402.2,71.54 402.7,73.67 403.2,75.68 403.7,77.58 404.2,79.35 404.7,80.97 405.2,82.46 405.7,83.79 406.2,84.96 406.7,85.98 407.2,86.82 407.7,87.50 408.2,88.00 408.7,88.33 409.2,88.49 409.7,88.46 410.2,88.24 410.7,87.86 411.2,87.31 411.7,86.59 412.2,85.71 412.7,84.67 413.2,83.48 413.7,82.14 414.2,80.66 414.7,79.05 415.2,77.32 415.7,75.48 416.2,73.53 416.7,71.49 417.2,69.35 417.7,67.15 418.2,64.88 418.7,62.56 419.2,60.20 419.7,57.80 420.2,55.39 420.7,52.97 421.2,50.56 421.7,48.16 422.2,45.79 422.7,43.46 423.2,41.18 423.7,38.96 424.2,36.81 424.7,34.74 425.2,32.76 425.7,30.89 426.2,29.12 426.7,27.46 427.2,25.93 427.7,24.53 428.2,23.27 428.7,22.15 429.2,21.18 429.7,20.36 430.2,19.69 430.7,19.18 431.2,18.83 431.7,18.64 432.2,18.61 432.7,18.74 433.2,19.03 433.7,19.48 434.2,20.08 434.7,20.83 435.2,21.73 435.7,22.77 436.2,23.95 436.7,25.25 437.2,26.68 437.7,28.23 438.2,29.88 438.7,31.63 439.2,33.48 439.7,35.40 440.2,37.40 440.7,39.46 441.2,41.57 441.7,43.73 442.2,45.91 442.7,48.12 443.2,50.34 443.7,52.55 444.2,54.76 444.7,56.95 445.2,59.10 445.7,61.21 446.2,63.27 446.7,65.27 447.2,67.19 447.7,69.04 448.2,70.80 448.7,72.46 449.2,74.02 449.7,75.47 450.2,76.80 450.7,78.00 451.2,79.08 451.7,80.03 452.2,80.83 452.7,81.50 453.2,82.02 453.7,82.40 454.2,82.63 454.7,82.71 455.2,82.65 455.7,82.44 456.2,82.09 456.7,81.60 457.2,80.96 457.7,80.19 458.2,79.29 458.7,78.27 459.2,77.12 459.7,75.85 460.2,74.48 460.7,73.00 461.2,71.43 461.7,69.78 462.2,68.04 462.7,66.24 463.2,64.37 463.7,62.46 464.2,60.50 464.7,58.51 465.2,56.49 465.7,54.47 466.2,52.43 466.7,50.41 467.2,48.40 467.7,46.42 468.2,44.47 468.7,42.56 469.2,40.71 469.7,38.92 470.2,37.20 470.7,35.56 471.2,34.01 471.7,32.55 472.2,31.18 472.7,29.93 473.2,28.78 473.7,27.75 474.2,26.84 474.7,26.06 475.2,25.40 475.7,24.88 476.2,24.49 476.7,24.23 477.2,24.11 477.7,24.11 478.2,24.25 478.7,24.52 479.2,24.92 479.7,25.45 480.2,26.11 480.7,26.89 481.2,27.79 481.7,28.80 482.2,29.92 482.7,31.14 483.2,32.46 483.7,33.86 484.2,35.35 484.7,36.92 485.2,38.55 485.7,40.24 486.2,41.98 486.7,43.76 487.2,45.58 487.7,47.42 488.2,49.27 488.7,51.14 489.2,53.00 489.7,54.85 490.2,56.67 490.7,58.47 491.2,60.24 491.7,61.95 492.2,63.62 492.7,65.22 493.2,66.75 493.7,68.21 494.2,69.58 494.7,70.87 495.2,72.06 495.7,73.15 496.2,74.13 496.7,75.01 497.2,75.77 497.7,76.41 498.2,76.94 498.7,77.34 499.2,77.63 499.7,77.78 500.2,77.82 500.7,77.74 501.2,77.53 501.7,77.20 502.2,76.75 502.7,76.18 503.2,75.51 503.7,74.72 504.2,73.82 504.7,72.82 505.2,71.73 505.7,70.55 506.2,69.28 506.7,67.94 507.2,66.52 507.7,65.04 508.2,63.50 508.7,61.91 509.2,60.28 509.7,58.62 510.2,56.93 510.7,55.23 511.2,53.51 511.7,51.80 512.2,50.09 512.7,48.40 513.2,46.73 513.7,45.09 514.2,43.49 514.7,41.94 515.2,40.44 515.7,39.00 516.2,37.63 516.7,36.33 517.2,35.11 517.7,33.98 518.2,32.94 518.7,31.99 519.2,31.14 519.7,30.40 520.2,29.76 520.7,29.23 521.2,28.81 521.7,28.50 522.2,28.30 522.7,28.22 523.2,28.26 523.7,28.40 524.2,28.66 524.7,29.02 525.2,29.50 525.7,30.08 526.2,30.76 526.7,31.55 527.2,32.42 527.7,33.39 528.2,34.44 528.7,35.57 529.2,36.78 529.7,38.05 530.2,39.38 530.7,40.77 531.2,42.21 531.7,43.69 532.2,45.20 532.7,46.74 533.2,48.29 533.7,49.86 534.2,51.43 534.7,53.00 535.2,54.56 535.7,56.10 536.2,57.61 536.7,59.09 537.2,60.53 537.7,61.92 538.2,63.26 538.7,64.54 539.2,65.75 539.7,66.90 540.2,67.96 540.7,68.95 541.2,69.85 541.7,70.66 542.2,71.38 542.7,72.00 543.2,72.52 543.7,72.94 544.2,73.26 544.7,73.47 545.2,73.58 545.7,73.59 546.2,73.48 546.7,73.28 547.2,72.97 547.7,72.56 548.2,72.05 548.7,71.45 549.2,70.76 549.7,69.98 550.2,69.11 550.7,68.17 551.2,67.15 551.7,66.05 552.2,64.90 552.7,63.69 553.2,62.42 553.7,61.11 554.2,59.75 554.7,58.37 555.2,56.95 555.7,55.52 556.2,54.07 556.7,52.62 557.2,51.17 557.7,49.72 558.2,48.30 558.7,46.89 559.2,45.51 559.7,44.16 560.2,42.86 560.7,41.60 561.2,40.39 561.7,39.24 562.2,38.16 562.7,37.14 563.2,36.20 563.7,35.33 564.2,34.55 564.7,33.85 565.2,33.23 565.7,32.71 566.2,32.28 566.7,31.94 567.2,31.69 567.7,31.55 568.2,31.49 568.7,31.55 569.2,31.72 569.7,31.98 570.2,32.33 570.7,32.78 571.2,33.31 571.7,33.93 572.2,34.63 572.7,35.41 573.2,36.26 573.7,37.18 574.2,38.17 574.7,39.23 575.2,40.33 575.7,41.49 576.2,42.69 576.7,43.93 577.2,45.21 577.7,46.51 578.2,47.83 578.7,49.17 579.2,50.51 579.7,51.86 580.2,53.20 580.7,54.53 581.2,55.85 581.7,57.14 582.2,58.40 582.7,59.62 583.2,60.81 583.7,61.95 584.2,63.03 584.7,64.06 585.2,65.03 585.7,65.94 586.2,66.77 586.7,67.54 587.2,68.22 587.7,68.83 588.2,69.35 588.7,69.80 589.2,70.15 589.7,70.42 590.2,70.61 590.7,70.70 591.2,70.68 591.7,70.57 592.2,70.37 592.7,70.09 593.2,69.72 593.7,69.27 594.2,68.74 594.7,68.14 595.2,67.46 595.7,66.71 596.2,65.89 596.7,65.02 597.2,64.08 597.7,63.09 598.2,62.06 598.7,60.98 599.2,59.86 599.7,58.71 600.2,57.53 600.7,56.33 601.2,55.12 601.7,53.89 602.2,52.67 602.7,51.44 603.2,50.23 603.7,49.02 604.2,47.84 604.7,46.68 605.2,45.55 605.7,44.46 606.2,43.40 606.7,42.40 607.2,41.44 607.7,40.53 608.2,39.69 608.7,38.91 609.2,38.19 609.7,37.54 610.2,36.97 610.7,36.46 611.2,36.04 611.7,35.69 612.2,35.42 612.7,35.23 613.2,35.12 613.7,35.09 614.2,35.14 614.7,35.27 615.2,35.48 615.7,35.77 616.2,36.13 616.7,36.57 617.2,37.07 617.7,37.65 618.2,38.29 618.7,39.00 619.2,39.76 619.7,40.58 620.2,41.45 620.7,42.36 621.2,43.31 621.7,44.31 622.2,45.33 622.7,46.38 623.2,47.45 623.7,48.54 624.2,49.64 624.7,50.75 625.2,51.85 625.7,52.95 626.2,54.04 626.7,55.11 627.2,56.16 627.7,57.19 628.2,58.19 628.7,59.15 629.2,60.07 629.7,60.94 630.2,61.77 630.7,62.54 631.2,63.26 631.7,63.92 632.2,64.52 632.7,65.06 633.2,65.52 633.7,65.92 634.2,66.25 634.7,66.50 635.2,66.68 635.7,66.79 636.2,66.83 636.7,66.79 637.2,66.69 637.7,66.51 638.2,66.25 638.7,65.93 639.2,65.54 639.7,65.08 640.2,64.56 640.7,63.98 641.2,63.34 641.7,62.64 642.2,61.89 642.7,61.10 643.2,60.26 643.7,59.38 644.2,58.47 644.7,57.52 645.2,56.55 645.7,55.56 646.2,54.55 646.7,53.52 647.2,52.50 647.7,51.47 648.2,50.44 648.7,49.42 649.2,48.41 649.7,47.42 650.2,46.45 650.7,45.51 651.2,44.60 651.7,43.73 652.2,42.89 652.7,42.10 653.2,41.35 653.7,40.66 654.2,40.01 654.7,39.43 655.2,38.90 655.7,38.43 656.2,38.03 656.7,37.69 657.2,37.41 657.7,37.20 658.2,37.06 658.7,37.00 659.2,37.01 659.7,37.10 660.2,37.25 660.7,37.47 661.2,37.75 661.7,38.10 662.2,38.51 662.7,38.98 663.2,39.50 663.7,40.08 664.2,40.72 664.7,41.40 665.2,42.12 665.7,42.89 666.2,43.70 666.7,44.54 667.2,45.41 667.7,46.30 668.2,47.22 668.7,48.15 669.2,49.10 669.7,50.05 670.2,51.01 670.7,51.97 671.2,52.92 671.7,53.86 672.2,54.79 672.7,55.70 673.2,56.58 673.7,57.44 674.2,58.27 674.7,59.06 675.2,59.82 675.7,60.53 676.2,61.20 676.7,61.82 677.2,62.39 677.7,62.91 678.2,63.38 678.7,63.78 679.2,64.13 679.7,64.42 680.2,64.64 680.7,64.81 681.2,64.91 681.7,64.95 682.2,64.93 682.7,64.83 683.2,64.66 683.7,64.43 684.2,64.15 684.7,63.80 685.2,63.40 685.7,62.95 686.2,62.45 686.7,61.89 687.2,61.30 687.7,60.66 688.2,59.97 688.7,59.26 689.2,58.51 689.7,57.73 690.2,56.93 690.7,56.10 691.2,55.26 691.7,54.41 692.2,53.54 692.7,52.68 693.2,51.81 693.7,50.94 694.2,50.08 694.7,49.24 695.2,48.41 695.7,47.59 696.2,46.81 696.7,46.05 697.2,45.31 697.7,44.62 698.2,43.96 698.7,43.34 699.2,42.76 699.7,42.23 700.2,41.74 700.7,41.31 701.2,40.93 701.7,40.60 702.2,40.32 702.7,40.10 703.2,39.94 703.7,39.84 704.2,39.76 704.7,39.70 705.2,39.70 705.7,39.75 706.2,39.86 706.7,40.03 707.2,40.24 707.7,40.51 708.2,40.83 708.7,41.20" fill="none" stroke="#0000e6" stroke-width="1.5"/>
<polyline points="396.7,119.43 397.2,119.79 397.7,120.16 398.2,120.52 398.7,120.87 399.2,121.22 399.7,121.56 400.2,121.90 400.7,122.23 401.2,122.55 401.7,122.87 402.2,123.18 402.7,123.48 403.2,123.78 403.7,124.07 404.2,124.36 404.7,124.63 405.2,124.90 405.7,125.16 406.2,125.42 406.7,125.66 407.2,125.90 407.7,126.13 408.2,126.35 408.7,126.57 409.2,126.77 409.7,126.97 410.2,127.16 410.7,127.34 411.2,127.51 411.7,127.67 412.2,127.83 412.7,127.97 413.2,128.11 413.7,128.24 414.2,128.36 414.7,128.47 415.2,128.57 415.7,128.66 416.2,128.75 416.7,128.82 417.2,128.89 417.7,128.95 418.2,128.99 418.7,129.03 419.2,129.07 419.7,129.09 420.2,129.10 420.7,129.09 421.2,129.07 421.7,129.05 422.2,129.01 422.7,128.97 423.2,128.92 423.7,128.86 424.2,128.79 424.7,128.72 425.2,128.63 425.7,128.54 426.2,128.44 426.7,128.33 427.2,128.21 427.7,128.09 428.2,127.95 428.7,127.81 429.2,127.67 429.7,127.51 430.2,127.35 430.7,127.18 431.2,127.00 431.7,126.82 432.2,126.63 432.7,126.44 433.2,126.23 433.7,126.02 434.2,125.81 434.7,125.59 435.2,125.36 435.7,125.13 436.2,124.89 436.7,124.65 437.2,124.40 437.7,124.15 438.2,123.89 438.7,123.62 439.2,123.36 439.7,123.08 440.2,122.81 440.7,122.53 441.2,122.25 441.7,121.96 442.2,121.67 442.7,121.39 443.2,121.10 443.7,120.80 444.2,120.51 444.7,120.21 445.2,119.91 445.7,119.61 446.2,119.30 446.7,118.99 447.2,118.69 447.7,118.38 448.2,118.07 448.7,117.76 449.2,117.44 449.7,117.13 450.2,116.82 450.7,116.50 451.2,116.19 451.7,115.88 452.2,115.56 452.7,115.25 453.2,114.94 453.7,114.63 454.2,114.32 454.7,114.01 455.2,113.70 455.7,113.40 456.2,113.09 456.7,112.79 457.2,112.49 457.7,112.19 458.2,111.90 458.7,111.60 459.2,111.31 459.7,111.03 460.2,110.74 460.7,110.46 461.2,110.18 461.7,109.91 462.2,109.64 462.7,109.37 463.2,109.11 463.7,108.85 464.2,108.60 464.7,108.35 465.2,108.10 465.7,107.86 466.2,107.62 466.7,107.39 467.2,107.17 467.7,106.95 468.2,106.73 468.7,106.52 469.2,106.31 469.7,106.11 470.2,105.92 470.7,105.73 471.2,105.55 471.7,105.37 472.2,105.20 472.7,105.03 473.2,104.87 473.7,104.72 474.2,104.57 474.7,104.43 475.2,104.30 475.7,104.17 476.2,104.05 476.7,103.94 477.2,103.83 477.7,103.73 478.2,103.63 478.7,103.54 479.2,103.46 479.7,103.38 480.2,103.31 480.7,103.25 481.2,103.19 481.7,103.15 482.2,103.10 482.7,103.07 483.2,103.04 483.7,103.02 484.2,103.00 484.7,102.99 485.2,102.99 485.7,102.99 486.2,103.00 486.7,103.03 487.2,103.06 487.7,103.10 488.2,103.15 488.7,103.20 489.2,103.26 489.7,103.33 490.2,103.40 490.7,103.48 491.2,103.56 491.7,103.65 492.2,103.74 492.7,103.85 493.2,103.95 493.7,104.06 494.2,104.18 494.7,104.31 495.2,104.43 495.7,104.57 496.2,104.71 496.7,104.85 497.2,105.00 497.7,105.15 498.2,105.31 498.7,105.47 499.2,105.64 499.7,105.81 500.2,105.99 500.7,106.17 501.2,106.35 501.7,106.54 502.2,106.73 502.7,106.93 503.2,107.13 503.7,107.33 504.2,107.54 504.7,107.75 505.2,107.96 505.7,108.17 506.2,108.39 506.7,108.61 507.2,108.83 507.7,109.05 508.2,109.27 508.7,109.49 509.2,109.71 509.7,109.94 510.2,110.17 510.7,110.40 511.2,110.63 511.7,110.86 512.2,111.09 512.7,111.32 513.2,111.56 513.7,111.79 514.2,112.03 514.7,112.26 515.2,112.50 515.7,112.74 516.2,112.97 516.7,113.21 517.2,113.44 517.7,113.68 518.2,113.91 518.7,114.15 519.2,114.38 519.7,114.61 520.2,114.84 520.7,115.07 521.2,115.30 521.7,115.53 522.2,115.75 522.7,115.97 523.2,116.19 523.7,116.41 524.2,116.63 524.7,116.85 525.2,117.06 525.7,117.27 526.2,117.48 526.7,117.68 527.2,117.88 527.7,118.08 528.2,118.28 528.7,118.47 529.2,118.66 529.7,118.85 530.2,119.03 530.7,119.21 531.2,119.38 531.7,119.56 532.2,119.73 532.7,119.89 533.2,120.05 533.7,120.21 534.2,120.36 534.7,120.51 535.2,120.65 535.7,120.79 536.2,120.93 536.7,121.06 537.2,121.19 537.7,121.31 538.2,121.43 538.7,121.54 539.2,121.65 539.7,121.75 540.2,121.85 540.7,121.95 541.2,122.04 541.7,122.12 542.2,122.20 542.7,122.28 543.2,122.35 543.7,122.41 544.2,122.47 544.7,122.53 545.2,122.58 545.7,122.62 546.2,122.66 546.7,122.70 547.2,122.73 547.7,122.75 548.2,122.78 548.7,122.79 549.2,122.80 549.7,122.80 550.2,122.79 550.7,122.78 551.2,122.76 551.7,122.74 552.2,122.72 552.7,122.69 553.2,122.65 553.7,122.61 554.2,122.57 554.7,122.52 555.2,122.47 555.7,122.41 556.2,122.34 556.7,122.28 557.2,122.21 557.7,122.13 558.2,122.05 558.7,121.97 559.2,121.88 559.7,121.79 560.2,121.69 560.7,121.59 561.2,121.49 561.7,121.38 562.2,121.27 562.7,121.16 563.2,121.04 563.7,120.92 564.2,120.80 564.7,120.67 565.2,120.54 565.7,120.40 566.2,120.27 566.7,120.13 567.2,119.99 567.7,119.84 568.2,119.69 568.7,119.54 569.2,119.39 569.7,119.24 570.2,119.08 570.7,118.92 571.2,118.76 571.7,118.60 572.2,118.43 572.7,118.27 573.2,118.11 573.7,117.94 574.2,117.78 574.7,117.61 575.2,117.44 575.7,117.28 576.2,117.11 576.7,116.94 577.2,116.77 577.7,116.60 578.2,116.42 578.7,116.25 579.2,116.08 579.7,115.91 580.2,115.73 580.7,115.56 581.2,115.39 581.7,115.22 582.2,115.04 582.7,114.87 583.2,114.70 583.7,114.53 584.2,114.36 584.7,114.19 585.2,114.02 585.7,113.85 586.2,113.69 586.7,113.52 587.2,113.36 587.7,113.20 588.2,113.04 588.7,112.88 589.2,112.72 589.7,112.56 590.2,112.41 590.7,112.26 591.2,112.11 591.7,111.96 592.2,111.81 592.7,111.67 593.2,111.53 593.7,111.39 594.2,111.25 594.7,111.12 595.2,110.99 595.7,110.86 596.2,110.73 596.7,110.61 597.2,110.49 597.7,110.37 598.2,110.26 598.7,110.14 599.2,110.04 599.7,109.93 600.2,109.83 600.7,109.73 601.2,109.63 601.7,109.54 602.2,109.45 602.7,109.37 603.2,109.28 603.7,109.21 604.2,109.13 604.7,109.06 605.2,108.99 605.7,108.93 606.2,108.86 606.7,108.81 607.2,108.75 607.7,108.70 608.2,108.66 608.7,108.61 609.2,108.57 609.7,108.54 610.2,108.51 610.7,108.48 611.2,108.45 611.7,108.43 612.2,108.42 612.7,108.40 613.2,108.39 613.7,108.39 614.2,108.38 614.7,108.38 615.2,108.39 615.7,108.40 616.2,108.42 616.7,108.44 617.2,108.47 617.7,108.51 618.2,108.54 618.7,108.58 619.2,108.62 619.7,108.67 620.2,108.72 620.7,108.77 621.2,108.83 621.7,108.89 622.2,108.95 622.7,109.02 623.2,109.09 623.7,109.16 624.2,109.23 624.7,109.31 625.2,109.39 625.7,109.48 626.2,109.56 626.7,109.65 627.2,109.74 627.7,109.84 628.2,109.94 628.7,110.04 629.2,110.14 629.7,110.24 630.2,110.35 630.7,110.46 631.2,110.57 631.7,110.68 632.2,110.80 632.7,110.91 633.2,111.03 633.7,111.15 634.2,111.27 634.7,111.40 635.2,111.52 635.7,111.64 636.2,111.75 636.7,111.86 637.2,111.97 637.7,112.09 638.2,112.20 638.7,112.32 639.2,112.43 639.7,112.55 640.2,112.67 640.7,112.79 641.2,112.90 641.7,113.02 642.2,113.14 642.7,113.26 643.2,113.39 643.7,113.51 644.2,113.63 644.7,113.75 645.2,113.87 645.7,113.99 646.2,114.11 646.7,114.23 647.2,114.36 647.7,114.48 648.2,114.60 648.7,114.72 649.2,114.83 649.7,114.95 650.2,115.07 650.7,115.19 651.2,115.30 651.7,115.42 652.2,115.53 652.7,115.64 653.2,115.76 653.7,115.87 654.2,115.98 654.7,116.08 655.2,116.19 655.7,116.29 656.2,116.40 656.7,116.50 657.2,116.60 657.7,116.70 658.2,116.80 658.7,116.89 659.2,116.98 659.7,117.07 660.2,117.16 660.7,117.25 661.2,117.34 661.7,117.42 662.2,117.50 662.7,117.58 663.2,117.66 663.7,117.73 664.2,117.80 664.7,117.87 665.2,117.94 665.7,118.00 666.2,118.07 666.7,118.13 667.2,118.18 667.7,118.24 668.2,118.29 668.7,118.34 669.2,118.39 669.7,118.43 670.2,118.47 670.7,118.51 671.2,118.55 671.7,118.58 672.2,118.62 672.7,118.66 673.2,118.69 673.7,118.73 674.2,118.76 674.7,118.79 675.2,118.82 675.7,118.84 676.2,118.86 676.7,118.88 677.2,118.90 677.7,118.91 678.2,118.92 678.7,118.92 679.2,118.93 679.7,118.93 680.2,118.93 680.7,118.93 681.2,118.92 681.7,118.91 682.2,118.90 682.7,118.90 683.2,118.90 683.7,118.90 684.2,118.90 684.7,118.89 685.2,118.88 685.7,118.87 686.2,118.85 686.7,118.84 687.2,118.82 687.7,118.80 688.2,118.77 688.7,118.75 689.2,118.72 689.7,118.69 690.2,118.66 690.7,118.62 691.2,118.56 691.7,118.46 692.2,118.36 692.7,118.25 693.2,118.14 693.7,118.03 694.2,117.92 694.7,117.81 695.2,117.70 695.7,117.58 696.2,117.46 696.7,117.34 697.2,117.22 697.7,117.16 698.2,117.10 698.7,117.04 699.2,116.98 699.7,116.92 700.2,116.86 700.7,116.80 701.2,116.74 701.7,116.67 702.2,116.61 702.7,116.54 703.2,116.48 703.7,116.41 704.2,116.34 704.7,116.27 705.2,116.20 705.7,116.13 706.2,116.06 706.7,115.99 707.2,115.92 707.7,115.84 708.2,115.77 708.7,115.70" fill="none" stroke="#e60000" stroke-width="1.5"/>
<polyline points="396.7,173.81 397.2,176.81 397.7,179.82 398.2,182.84 398.7,185.84 399.2,188.81 399.7,191.74 400.2,194.62 400.7,197.43 401.2,200.17 401.7,202.82 402.2,205.37 402.7,207.81 403.2,210.13 403.7,212.32 404.2,214.38 404.7,216.29 405.2,218.05 405.7,219.65 406.2,221.08 406.7,222.34 407.2,223.44 407.7,224.35 408.2,225.08 408.7,225.63 409.2,226.00 409.7,226.18 410.2,226.16 410.7,225.94 411.2,225.54 411.7,224.97 412.2,224.23 412.7,223.32 413.2,222.25 413.7,221.03 414.2,219.66 414.7,218.14 415.2,216.50 415.7,214.73 416.2,212.85 416.7,210.87 417.2,208.79 417.7,206.63 418.2,204.39 418.7,202.10 419.2,199.75 419.7,197.36 420.2,194.95 420.7,192.52 421.2,190.09 421.7,187.66 422.2,185.26 422.7,182.88 423.2,180.55 423.7,178.26 424.2,176.04 424.7,173.90 425.2,171.83 425.7,169.86 426.2,167.98 426.7,166.22 427.2,164.57 427.7,163.04 428.2,161.65 428.7,160.39 429.2,159.26 429.7,158.28 430.2,157.45 430.7,156.77 431.2,156.24 431.7,155.87 432.2,155.65 432.7,155.59 433.2,155.70 433.7,155.97 434.2,156.38 434.7,156.93 435.2,157.63 435.7,158.46 436.2,159.42 436.7,160.50 437.2,161.71 437.7,163.02 438.2,164.44 438.7,165.95 439.2,167.55 439.7,169.23 440.2,170.97 440.7,172.77 441.2,174.63 441.7,176.52 442.2,178.43 442.7,180.37 443.2,182.31 443.7,184.25 444.2,186.18 444.7,188.08 445.2,189.95 445.7,191.78 446.2,193.55 446.7,195.26 447.2,196.89 447.7,198.44 448.2,199.91 448.7,201.28 449.2,202.54 449.7,203.69 450.2,204.72 450.7,205.63 451.2,206.41 451.7,207.05 452.2,207.56 452.7,207.93 453.2,208.16 453.7,208.24 454.2,208.17 454.7,207.94 455.2,207.55 455.7,207.03 456.2,206.36 456.7,205.55 457.2,204.61 457.7,203.53 458.2,202.32 458.7,200.98 459.2,199.53 459.7,197.97 460.2,196.29 460.7,194.53 461.2,192.67 461.7,190.72 462.2,188.70 462.7,186.62 463.2,184.48 463.7,182.29 464.2,180.06 464.7,177.81 465.2,175.54 465.7,173.25 466.2,170.97 466.7,168.70 467.2,166.45 467.7,164.24 468.2,162.06 468.7,159.93 469.2,157.86 469.7,155.86 470.2,153.93 470.7,152.09 471.2,150.34 471.7,148.68 472.2,147.14 472.7,145.70 473.2,144.38 473.7,143.19 474.2,142.12 474.7,141.18 475.2,140.38 475.7,139.71 476.2,139.19 476.7,138.80 477.2,138.56 477.7,138.46 478.2,138.50 478.7,138.68 479.2,139.00 479.7,139.45 480.2,140.04 480.7,140.76 481.2,141.60 481.7,142.56 482.2,143.64 482.7,144.83 483.2,146.11 483.7,147.50 484.2,148.97 484.7,150.53 485.2,152.15 485.7,153.85 486.2,155.60 486.7,157.40 487.2,159.24 487.7,161.11 488.2,163.00 488.7,164.90 489.2,166.81 489.7,168.72 490.2,170.61 490.7,172.47 491.2,174.31 491.7,176.10 492.2,177.85 492.7,179.54 493.2,181.17 493.7,182.73 494.2,184.21 494.7,185.61 495.2,186.91 495.7,188.13 496.2,189.24 496.7,190.25 497.2,191.15 497.7,191.93 498.2,192.61 498.7,193.16 499.2,193.60 499.7,193.92 500.2,194.12 500.7,194.20 501.2,194.16 501.7,194.00 502.2,193.73 502.7,193.35 503.2,192.85 503.7,192.25 504.2,191.55 504.7,190.74 505.2,189.85 505.7,188.87 506.2,187.80 506.7,186.66 507.2,185.45 507.7,184.18 508.2,182.86 508.7,181.48 509.2,180.07 509.7,178.63 510.2,177.16 510.7,175.67 511.2,174.18 511.7,172.69 512.2,171.21 512.7,169.74 513.2,168.29 513.7,166.88 514.2,165.51 514.7,164.19 515.2,162.92 515.7,161.71 516.2,160.56 516.7,159.49 517.2,158.51 517.7,157.60 518.2,156.78 518.7,156.06 519.2,155.44 519.7,154.92 520.2,154.50 520.7,154.19 521.2,153.99 521.7,153.90 522.2,153.94 522.7,154.09 523.2,154.36 523.7,154.73 524.2,155.22 524.7,155.82 525.2,156.52 525.7,157.32 526.2,158.22 526.7,159.22 527.2,160.32 527.7,161.49 528.2,162.75 528.7,164.09 529.2,165.50 529.7,166.97 530.2,168.50 530.7,170.08 531.2,171.71 531.7,173.37 532.2,175.07 532.7,176.78 533.2,178.51 533.7,180.25 534.2,181.99 534.7,183.72 535.2,185.43 535.7,187.12 536.2,188.78 536.7,190.41 537.2,191.99 537.7,193.51 538.2,194.98 538.7,196.39 539.2,197.72 539.7,198.98 540.2,200.16 540.7,201.26 541.2,202.26 541.7,203.17 542.2,203.98 542.7,204.68 543.2,205.29 543.7,205.79 544.2,206.18 544.7,206.47 545.2,206.64 545.7,206.70 546.2,206.66 546.7,206.50 547.2,206.23 547.7,205.86 548.2,205.38 548.7,204.81 549.2,204.14 549.7,203.38 550.2,202.52 550.7,201.58 551.2,200.57 551.7,199.47 552.2,198.31 552.7,197.09 553.2,195.80 553.7,194.47 554.2,193.09 554.7,191.68 555.2,190.23 555.7,188.76 556.2,187.27 556.7,185.77 557.2,184.26 557.7,182.76 558.2,181.27 558.7,179.80 559.2,178.35 559.7,176.93 560.2,175.55 560.7,174.21 561.2,172.92 561.7,171.69 562.2,170.51 562.7,169.40 563.2,168.36 563.7,167.39 564.2,166.50 564.7,165.69 565.2,164.96 565.7,164.33 566.2,163.78 566.7,163.32 567.2,162.95 567.7,162.68 568.2,162.50 568.7,162.41 569.2,162.41 569.7,162.51 570.2,162.70 570.7,162.97 571.2,163.33 571.7,163.78 572.2,164.31 572.7,164.91 573.2,165.58 573.7,166.33 574.2,167.14 574.7,168.01 575.2,168.93 575.7,169.91 576.2,170.93 576.7,171.98 577.2,173.07 577.7,174.19 578.2,175.32 578.7,176.47 579.2,177.63 579.7,178.79 580.2,179.94 580.7,181.08 581.2,182.21 581.7,183.31 582.2,184.38 582.7,185.42 583.2,186.42 583.7,187.37 584.2,188.27 584.7,189.12 585.2,189.91 585.7,190.63 586.2,191.28 586.7,191.86 587.2,192.37 587.7,192.80 588.2,193.15 588.7,193.42 589.2,193.60 589.7,193.70 590.2,193.69 590.7,193.60 591.2,193.42 591.7,193.16 592.2,192.81 592.7,192.38 593.2,191.87 593.7,191.27 594.2,190.60 594.7,189.86 595.2,189.04 595.7,188.16 596.2,187.21 596.7,186.21 597.2,185.15 597.7,184.04 598.2,182.88 598.7,181.68 599.2,180.45 599.7,179.19 600.2,177.91 600.7,176.61 601.2,175.29 601.7,173.97 602.2,172.65 602.7,171.33 603.2,170.03 603.7,168.74 604.2,167.48 604.7,166.24 605.2,165.04 605.7,163.88 606.2,162.76 606.7,161.69 607.2,160.67 607.7,159.71 608.2,158.82 608.7,157.99 609.2,157.22 609.7,156.54 610.2,155.92 610.7,155.39 611.2,154.93 611.7,154.56 612.2,154.26 612.7,154.06 613.2,153.93 613.7,153.90 614.2,153.96 614.7,154.10 615.2,154.33 615.7,154.63 616.2,155.02 616.7,155.48 617.2,156.02 617.7,156.63 618.2,157.31 618.7,158.05 619.2,158.86 619.7,159.73 620.2,160.64 620.7,161.61 621.2,162.63 621.7,163.68 622.2,164.77 622.7,165.88 623.2,167.03 623.7,168.19 624.2,169.36 624.7,170.54 625.2,171.73 625.7,172.92 626.2,174.09 626.7,175.26 627.2,176.40 627.7,177.52 628.2,178.62 628.7,179.68 629.2,180.70 629.7,181.68 630.2,182.62 630.7,183.50 631.2,184.33 631.7,185.11 632.2,185.82 632.7,186.47 633.2,187.06 633.7,187.58 634.2,188.03 634.7,188.41 635.2,188.71 635.7,188.95 636.2,189.11 636.7,189.20 637.2,189.19 637.7,189.12 638.2,188.97 638.7,188.75 639.2,188.47 639.7,188.12 640.2,187.71 640.7,187.23 641.2,186.70 641.7,186.11 642.2,185.48 642.7,184.79 643.2,184.07 643.7,183.30 644.2,182.50 644.7,181.66 645.2,180.80 645.7,179.92 646.2,179.02 646.7,178.11 647.2,177.20 647.7,176.28 648.2,175.36 648.7,174.45 649.2,173.55 649.7,172.67 650.2,171.81 650.7,170.98 651.2,170.17 651.7,169.40 652.2,168.67 652.7,167.98 653.2,167.34 653.7,166.74 654.2,166.20 654.7,165.71 655.2,165.28 655.7,164.91 656.2,164.60 656.7,164.35 657.2,164.17 657.7,164.05 658.2,164.00 658.7,164.06 659.2,164.18 659.7,164.36 660.2,164.61 660.7,164.93 661.2,165.30 661.7,165.74 662.2,166.24 662.7,166.80 663.2,167.41 663.7,168.07 664.2,168.79 664.7,169.55 665.2,170.35 665.7,171.19 666.2,172.07 666.7,172.98 667.2,173.91 667.7,174.87 668.2,175.85 668.7,176.84 669.2,177.84 669.7,178.85 670.2,179.86 670.7,180.87 671.2,181.86 671.7,182.85 672.2,183.81 672.7,184.76 673.2,185.68 673.7,186.57 674.2,187.43 674.7,188.25 675.2,189.03 675.7,189.76 676.2,190.45 676.7,191.09 677.2,191.67 677.7,192.20 678.2,192.67 678.7,193.08 679.2,193.43 679.7,193.71 680.2,193.94 680.7,194.09 681.2,194.19 681.7,194.21 682.2,194.17 682.7,194.05 683.2,193.87 683.7,193.63 684.2,193.32 684.7,192.95 685.2,192.53 685.7,192.05 686.2,191.51 686.7,190.93 687.2,190.30 687.7,189.62 688.2,188.90 688.7,188.14 689.2,187.35 689.7,186.52 690.2,185.67 690.7,184.80 691.2,183.91 691.7,183.00 692.2,182.08 692.7,181.15 693.2,180.22 693.7,179.30 694.2,178.37 694.7,177.46 695.2,176.57 695.7,175.69 696.2,174.83 696.7,174.00 697.2,173.19 697.7,172.42 698.2,171.68 698.7,170.99 699.2,170.33 699.7,169.72 700.2,169.16 700.7,168.64 701.2,168.17 701.7,167.76 702.2,167.40 702.7,167.10 703.2,166.85 703.7,166.66 704.2,166.52 704.7,166.44 705.2,166.42 705.7,166.45 706.2,166.54 706.7,166.69 707.2,166.89 707.7,167.15 708.2,167.45 708.7,167.80" fill="none" stroke="#f000f0" stroke-width="1.5"/>
<g stroke="#000" fill="none">
<rect x="386.7" y="1.7" width="331.8" height="238" stroke-width="1.5"/>
<path stroke-width="1.2" d="M396.7 239.7v-4.7M447 239.7v-4.7M497.3 239.7v-4.7M547.7 239.7v-4.7M598 239.7v-4.7M648.4 239.7v-4.7M698.7 239.7v-4.7M421.9 239.7v-2.6M472.2 239.7v-2.6M522.5 239.7v-2.6M572.9 239.7v-2.6M623.2 239.7v-2.6M673.6 239.7v-2.6
M396.7 1.7v4.7M447 1.7v4.7M497.3 1.7v4.7M547.7 1.7v4.7M598 1.7v4.7M648.4 1.7v4.7M698.7 1.7v4.7M421.9 1.7v2.6M472.2 1.7v2.6M522.5 1.7v2.6M572.9 1.7v2.6M623.2 1.7v2.6M673.6 1.7v2.6
M386.7 10.4h4.7M386.7 51.8h4.7M386.7 93.4h4.7M386.7 135.2h4.7M386.7 176.9h4.7M386.7 218.6h4.7
M718.5 10.4h-4.7M718.5 51.8h-4.7M718.5 93.4h-4.7M718.5 135.2h-4.7M718.5 176.9h-4.7M718.5 218.6h-4.7"/>
</g>
<g class="r" font-size="14" text-anchor="middle">
<text x="396.7" y="255.8">0</text>
<text x="447" y="255.8">100</text>
<text x="497.3" y="255.8">200</text>
<text x="547.7" y="255.8">300</text>
<text x="598" y="255.8">400</text>
<text x="648.4" y="255.8">500</text>
<text x="698.7" y="255.8">600</text>
</g>
<text class="r" x="500.8" y="271.8" font-size="14.35">Delay time (ps)</text>
<text class="r" transform="translate(377.5,190.8) rotate(-90)" font-size="14.3">Peak position (arb units)</text>
<text class="r" x="364.7" y="273.9" font-size="17.5">(b)</text>
</svg>
</body></html>
